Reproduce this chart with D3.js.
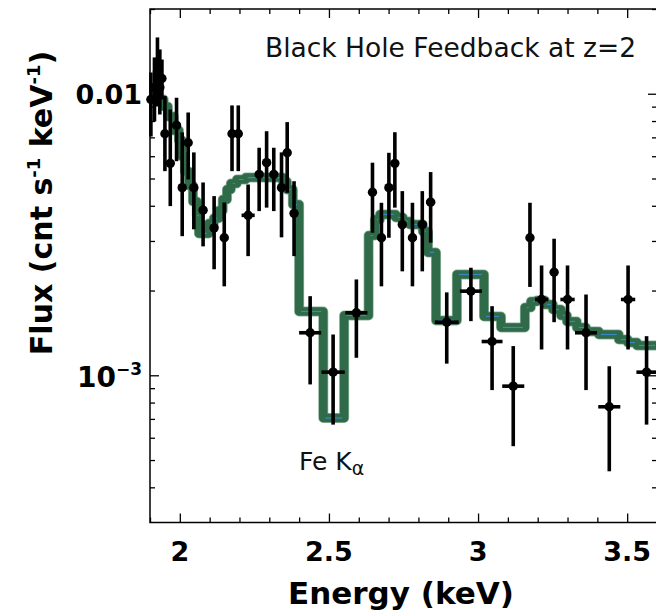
<!DOCTYPE html>
<html>
<head>
<meta charset="utf-8">
<script src="https://cdn.jsdelivr.net/npm/d3@7/dist/d3.min.js"></script>
<style>
  body { margin: 0; background: #fff; }
  svg { display: block; font-family: "DejaVu Sans", sans-serif; }
  .tick line { stroke: #000; stroke-width: 1.3; }
</style>
</head>
<body>
<div id="chart"></div>
<script>
// Data points (energy in keV, flux in cnt/s/keV)
var energy = [1.903,1.915,1.925,1.933,1.940,1.950,1.968,1.989,2.008,2.028,2.047,2.078,2.115,2.149,2.175,2.196,2.229,2.266,2.291,2.315,2.341,2.360,2.383,2.437,2.514,2.592,2.646,2.676,2.701,2.721,2.746,2.780,2.813,2.841,2.895,2.976,3.047,3.118,3.174,3.213,3.255,3.300,3.362,3.440,3.503,3.565]
var energyErr = [0.005,0.005,0.005,0.005,0.005,0.006,0.006,0.007,0.008,0.008,0.009,0.010,0.011,0.012,0.010,0.010,0.022,0.012,0.012,0.012,0.012,0.010,0.012,0.037,0.039,0.037,0.012,0.012,0.012,0.012,0.012,0.015,0.015,0.015,0.040,0.037,0.035,0.037,0.012,0.022,0.013,0.024,0.037,0.037,0.024,0.034]
var flux = [0.00954,0.01053,0.0120,0.01053,0.01133,0.00721,0.00566,0.00772,0.00464,0.0067,0.00464,0.00386,0.00334,0.00308,0.00721,0.00721,0.0037,0.00517,0.00569,0.00517,0.00464,0.00617,0.00376,0.001416,0.001026,0.001667,0.00447,0.00308,0.00464,0.00566,0.00343,0.00308,0.00343,0.00412,0.001544,0.00199,0.001318,0.000915,0.00308,0.001859,0.002323,0.001859,0.001416,0.000773,0.001859,0.001026]
var fluxHi = [0.0119,0.01346,0.01585,0.01437,0.01323,0.00981,0.00879,0.00968,0.00729,0.00858,0.00619,0.00484,0.00433,0.00411,0.00909,0.00909,0.00476,0.00643,0.00736,0.00643,0.00619,0.00793,0.00489,0.00191,0.001396,0.00219,0.00569,0.0041,0.00617,0.0073,0.00451,0.0041,0.00451,0.00527,0.00197,0.00241,0.00176,0.00127,0.0041,0.002455,0.003055,0.002455,0.001936,0.001077,0.002455,0.001377]
var fluxLo = [0.00705,0.00797,0.00901,0.00844,0.00954,0.00531,0.00399,0.00576,0.00312,0.00496,0.0033,0.00287,0.00238,0.00207,0.00531,0.00531,0.00265,0.00383,0.00394,0.00383,0.00309,0.00445,0.00265,0.000928,0.000668,0.001154,0.00321,0.00207,0.00308,0.00394,0.00234,0.00207,0.00234,0.00296,0.0011,0.001557,0.000886,0.00056,0.00206,0.001235,0.001544,0.001235,0.000886,0.000456,0.001235,0.000668]

// Model (binned step function)
var modelEdges = [1.90,1.926,1.946,1.960,1.980,1.997,2.007,2.017,2.030,2.044,2.057,2.064,2.097,2.114,2.131,2.144,2.158,2.171,2.191,2.221,2.345,2.359,2.379,2.400,2.481,2.551,2.633,2.654,2.671,2.724,2.748,2.771,2.815,2.832,2.859,2.929,3.020,3.077,3.157,3.177,3.197,3.224,3.251,3.278,3.298,3.331,3.362,3.405,3.472,3.502,3.533,3.60]
var modelFlux = [0.00994,0.00954,0.00901,0.00831,0.00741,0.00683,0.00599,0.0053,0.00472,0.00414,0.00369,0.00319,0.00346,0.00361,0.00385,0.00421,0.00457,0.0048,0.00496,0.00504,0.00488,0.00457,0.00404,0.001685,0.000705,0.001631,0.003137,0.003576,0.003726,0.003635,0.003519,0.003433,0.003242,0.002731,0.001566,0.00228,0.001618,0.001479,0.00174,0.001829,0.001844,0.001785,0.001713,0.001631,0.001553,0.001479,0.00143,0.001396,0.00134,0.001307,0.001276]

// Ticks
var xMajor = [2, 2.5, 3, 3.5]
var xMinor = [1.9,2.1,2.2,2.3,2.4,2.6,2.7,2.8,2.9,3.1,3.2,3.3,3.4,3.6]
var yMajor = [0.001, 0.01]
var yMinor = [0.0004,0.0005,0.0006,0.0007,0.0008,0.0009,0.002,0.003,0.004,0.005,0.006,0.007,0.008,0.009,0.02]

var width = 656
var height = 613
var plot = { left: 150, right: 657, top: 9, bottom: 522.5 }

var x = d3.scaleLinear().domain([1.9, 3.6]).range([plot.left, plot.right])
var y = d3.scaleLog().domain([3e-4, 0.02]).range([plot.bottom, plot.top])

var svg = d3.select('#chart').append('svg')
  .attr('width', width)
  .attr('height', height)

svg.append('defs').append('clipPath')
  .attr('id', 'plotClip')
  .append('rect')
  .attr('x', plot.left)
  .attr('y', plot.top)
  .attr('width', plot.right - plot.left)
  .attr('height', plot.bottom - plot.top)

// Axes with inward ticks on all sides
function addAxis(axisFn, scale, values, size, transform) {
  var g = svg.append('g')
    .attr('transform', transform)
    .call(axisFn(scale).tickValues(values).tickSize(-size).tickFormat(''))
  g.select('.domain').remove()
  return g
}

addAxis(d3.axisBottom, x, xMajor, 9, 'translate(0,' + plot.bottom + ')')
addAxis(d3.axisBottom, x, xMinor, 5, 'translate(0,' + plot.bottom + ')')
addAxis(d3.axisTop, x, xMajor, 9, 'translate(0,' + plot.top + ')')
addAxis(d3.axisTop, x, xMinor, 5, 'translate(0,' + plot.top + ')')
addAxis(d3.axisLeft, y, yMajor, 9, 'translate(' + plot.left + ',0)')
addAxis(d3.axisLeft, y, yMinor, 5, 'translate(' + plot.left + ',0)')
addAxis(d3.axisRight, y, yMajor, 9, 'translate(' + plot.right + ',0)')
addAxis(d3.axisRight, y, yMinor, 5, 'translate(' + plot.right + ',0)')

// Frame
svg.append('rect')
  .attr('x', plot.left)
  .attr('y', plot.top)
  .attr('width', plot.right - plot.left)
  .attr('height', plot.bottom - plot.top)
  .attr('fill', 'none')
  .attr('stroke', '#000')
  .attr('stroke-width', 1.5)

// X tick labels
svg.append('g').selectAll('text')
  .data(xMajor)
  .enter().append('text')
  .attr('x', function (d) { return x(d) })
  .attr('y', 561)
  .attr('text-anchor', 'middle')
  .attr('font-size', 27)
  .attr('font-weight', 'bold')
  .text(function (d) { return d })

// Y tick labels
svg.append('text')
  .attr('x', 142)
  .attr('y', y(0.01) + 10)
  .attr('text-anchor', 'end')
  .attr('font-size', 27)
  .attr('font-weight', 'bold')
  .text('0.01')

var lab3 = svg.append('text')
  .attr('x', 142)
  .attr('y', y(0.001) + 12)
  .attr('text-anchor', 'end')
  .attr('font-size', 28)
  .attr('font-weight', 'bold')
lab3.append('tspan').text('10')
lab3.append('tspan').attr('font-size', 17).attr('dy', -12).text('\u22123')

// Axis titles
svg.append('text')
  .attr('x', 401)
  .attr('y', 604)
  .attr('text-anchor', 'middle')
  .attr('font-size', 31)
  .attr('font-weight', 'bold')
  .text('Energy (keV)')

var yTitle = svg.append('text')
  .attr('transform', 'translate(52,' + 203 + ') rotate(-90)')
  .attr('text-anchor', 'middle')
  .attr('font-size', 30)
  .attr('font-weight', 'bold')
yTitle.append('tspan').text('Flux (cnt s')
yTitle.append('tspan').attr('font-size', 18).attr('dy', -12).text('-1')
yTitle.append('tspan').attr('dy', 12).text(' keV')
yTitle.append('tspan').attr('font-size', 18).attr('dy', -12).text('-1')
yTitle.append('tspan').attr('dy', 12).text(')')

// Annotations
svg.append('text')
  .attr('x', 265)
  .attr('y', 57)
  .attr('font-size', 26.5)
  .attr('fill', '#111')
  .text('Black Hole Feedback at z=2')

var fe = svg.append('text')
  .attr('x', 299)
  .attr('y', 470)
  .attr('font-size', 25)
  .attr('fill', '#111')
fe.append('tspan').text('Fe K')
fe.append('tspan').attr('font-size', 19).attr('dy', 5).text('\u03b1')

// Model step line
var stepPts = modelFlux.map(function (f, i) { return [modelEdges[i], f] })
stepPts.push([modelEdges[modelEdges.length - 1], modelFlux[modelFlux.length - 1]])

var stepLine = d3.line()
  .x(function (d) { return x(d[0]) })
  .y(function (d) { return y(d[1]) })
  .curve(d3.curveStepAfter)

var gModel = svg.append('g').attr('clip-path', 'url(#plotClip)')

// faint halo under the band
gModel.append('path')
  .datum(stepPts)
  .attr('d', stepLine)
  .attr('fill', 'none')
  .attr('stroke', '#8fb39c')
  .attr('stroke-width', 10)
  .attr('stroke-linejoin', 'round')

gModel.append('path')
  .datum(stepPts)
  .attr('d', stepLine)
  .attr('fill', 'none')
  .attr('stroke', '#2f6b48')
  .attr('stroke-width', 8.5)
  .attr('stroke-linejoin', 'round')

gModel.selectAll('.bin')
  .data(modelFlux)
  .enter().append('line')
  .attr('class', 'bin')
  .attr('x1', function (d, i) { return x(modelEdges[i]) + 2 })
  .attr('x2', function (d, i) { return x(modelEdges[i + 1]) - 2 })
  .attr('y1', function (d) { return y(d) })
  .attr('y2', function (d) { return y(d) })
  .attr('stroke', '#3d86c6')
  .attr('stroke-width', 1.2)

// Data points with error bars
var pts = energy.map(function (e, i) {
  return { e: e, de: energyErr[i], f: flux[i], lo: fluxLo[i], hi: fluxHi[i] }
})

var gPts = svg.append('g')

gPts.selectAll('.ey')
  .data(pts)
  .enter().append('line')
  .attr('class', 'ey')
  .attr('x1', function (d) { return x(d.e) })
  .attr('x2', function (d) { return x(d.e) })
  .attr('y1', function (d) { return y(d.lo) })
  .attr('y2', function (d) { return y(d.hi) })
  .attr('stroke', '#000')
  .attr('stroke-width', 3.6)

gPts.selectAll('.ex')
  .data(pts)
  .enter().append('line')
  .attr('class', 'ex')
  .attr('x1', function (d) { return x(d.e - d.de) })
  .attr('x2', function (d) { return x(d.e + d.de) })
  .attr('y1', function (d) { return y(d.f) })
  .attr('y2', function (d) { return y(d.f) })
  .attr('stroke', '#000')
  .attr('stroke-width', 3.6)

gPts.selectAll('circle')
  .data(pts)
  .enter().append('circle')
  .attr('cx', function (d) { return x(d.e) })
  .attr('cy', function (d) { return y(d.f) })
  .attr('r', 4.7)
  .attr('fill', '#000')
</script>
</body>
</html>
